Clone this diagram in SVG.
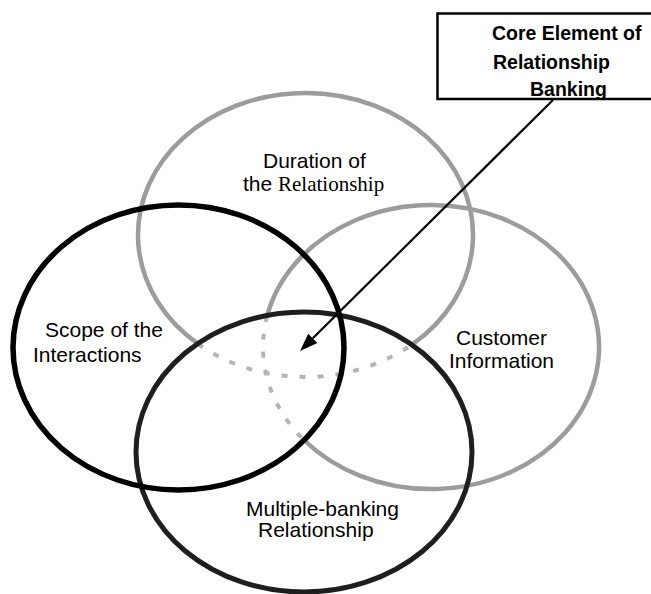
<svg xmlns="http://www.w3.org/2000/svg" width="651" height="594" viewBox="0 0 651 594">
<style>
.grey{fill:none;stroke:#9c9c9c;stroke-width:4.5}
.hidden{fill:none;stroke:#b4b4b4;stroke-width:4;stroke-dasharray:6 12}
.black{fill:none;stroke:#000;stroke-width:5.5}
.dark{fill:none;stroke:#1e1e1e;stroke-width:5}
.lbl{font-family:"Liberation Sans",Arial,sans-serif;font-size:21px;fill:#000}
.serif{font-family:"Liberation Serif","Times New Roman",serif}
.box{font-family:"Liberation Sans",Arial,sans-serif;font-size:19.5px;font-weight:bold;fill:#000}
</style>
<defs>
<marker id="ah" markerUnits="userSpaceOnUse" markerWidth="20" markerHeight="14" refX="0" refY="6.5" orient="auto" overflow="visible">
<path d="M0,0 L18,6.5 L0,13 z" fill="#000"/>
</marker>
</defs>
<rect width="651" height="594" fill="#fff"/>
<g id="duration">
<path class="grey" d="M412.8,344 A167.5,142 0 1 0 198.2,344"/>
<path class="hidden" d="M198.2,344 A167.5,142 0 0 0 412.8,344"/>
<text class="lbl" x="263" y="168">Duration of</text>
<text class="lbl" x="243" y="191">the <tspan class="serif">Relationship</tspan></text>
</g>
<g id="customer">
<path class="grey" d="M304,440 A168,142 0 1 0 267.1,316"/>
<path class="hidden" d="M267.1,316 A168,142 0 0 0 304,440"/>
<text class="lbl" x="456" y="345">Customer</text>
<text class="lbl" x="449" y="368">Information</text>
</g>
<g id="multiple">
<ellipse class="dark" cx="304" cy="452" rx="168" ry="140"/>
<text class="lbl" x="246" y="516">Multiple-banking</text>
<text class="lbl" x="258" y="537">Relationship</text>
</g>
<g id="scope">
<ellipse class="black" cx="178.5" cy="347.5" rx="165.5" ry="142.5"/>
<text class="lbl" x="45" y="337">Scope of the</text>
<text class="lbl" x="33" y="362">Interactions</text>
</g>
<g id="core">
<rect x="437.5" y="13.5" width="220" height="85.5" fill="#fff" stroke="#000" stroke-width="2.5"/>
<text class="box" x="492" y="40">Core Element of</text>
<text class="box" x="493" y="69">Relationship</text>
<text class="box" x="530" y="96">Banking</text>
</g>
<g id="connectors">
<line x1="553" y1="100" x2="312.8" y2="338.3" stroke="#000" stroke-width="2.2" marker-end="url(#ah)"/>
</g>
</svg>
